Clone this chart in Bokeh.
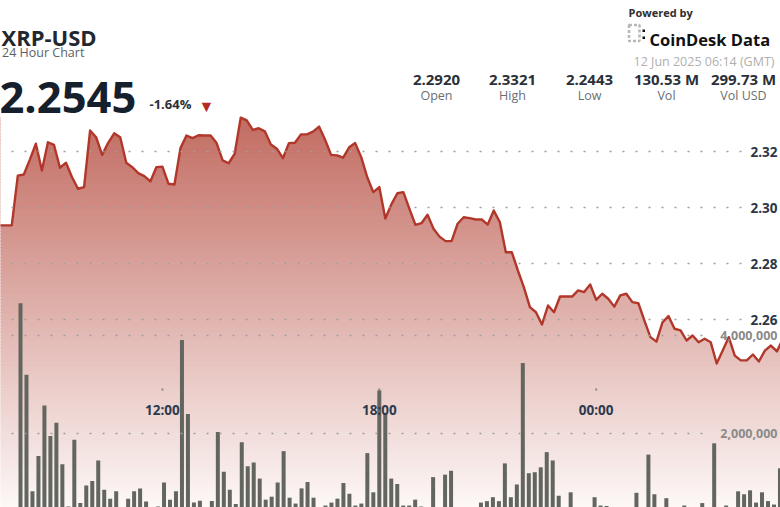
import numpy as np
import pandas as pd
from bokeh.plotting import figure
from bokeh.models import (Range1d, ColumnDataSource, LabelSet, Label, Grid,
                          FixedTicker, BoxAnnotation)
from bokeh.core.properties import value
from bokeh.embed import file_html
from bokeh.resources import INLINE

# ---------------------------------------------------------------- data
symbol = "XRP-USD"
chart_name = "24 Hour Chart"
last_price = "2.2545"
change_pct = "-1.64%"
stat_values = ["2.2920", "2.3321", "2.2443", "130.53 M", "299.73 M"]
stat_names = ["Open", "High", "Low", "Vol", "Vol USD"]
powered_by = "Powered by"
brand = "CoinDesk Data"
timestamp = "12 Jun 2025 06:14 (GMT)"

# 10-minute closes, visible part of the 24h window
price_start = "2025-06-11 07:20"
prices = [
    2.2936, 2.2936, 2.2936, 2.2936, 2.3114, 2.3118, 2.3171, 2.3228, 2.3132, 2.3233,
    2.3224, 2.3142, 2.3160, 2.3108, 2.3067, 2.3073, 2.3275, 2.3251, 2.3188, 2.3231,
    2.3265, 2.3251, 2.3160, 2.3144, 2.3123, 2.3112, 2.3093, 2.3144, 2.3146, 2.3085,
    2.3082, 2.3212, 2.3257, 2.3248, 2.3258, 2.3257, 2.3257, 2.3230, 2.3168, 2.3158,
    2.3192, 2.3321, 2.3311, 2.3277, 2.3283, 2.3272, 2.3225, 2.3210, 2.3176, 2.3230,
    2.3231, 2.3261, 2.3261, 2.3271, 2.3289, 2.3242, 2.3188, 2.3186, 2.3178, 2.3215,
    2.3230, 2.3180, 2.3108, 2.3055, 2.3073, 2.2961, 2.3011, 2.3051, 2.3055, 2.2995,
    2.2938, 2.2944, 2.2974, 2.2924, 2.2896, 2.2880, 2.2880, 2.2942, 2.2965, 2.2962,
    2.2957, 2.2957, 2.2939, 2.2989, 2.2948, 2.2840, 2.2840, 2.2775, 2.2715, 2.2644,
    2.2626, 2.2582, 2.2650, 2.2626, 2.2682, 2.2682, 2.2682, 2.2704, 2.2698, 2.2725,
    2.2670, 2.2692, 2.2674, 2.2646, 2.2686, 2.2692, 2.2662, 2.2658, 2.2596, 2.2537,
    2.2521, 2.2590, 2.2612, 2.2567, 2.2561, 2.2525, 2.2543, 2.2519, 2.2531, 2.2519,
    2.2443, 2.2489, 2.2537, 2.2471, 2.2454, 2.2454, 2.2475, 2.2450, 2.2489, 2.2507,
    2.2486, 2.2532,
]

# 10-minute volumes (millions of XRP)
volume_start = "2025-06-11 08:00"
volumes_m = [
    4.66, 3.20, 0.82, 1.54, 2.57, 1.95, 2.22, 1.37, 0.51, 1.87,
    0.58, 0.94, 1.03, 1.45, 0.85, 0.67, 0.82, 0.40, 0.67, 0.82,
    0.88, 0.61, 0.40, 0.51, 1.00, 0.65, 0.82, 3.91, 2.40, 0.59,
    0.63, 0.40, 0.62, 2.03, 1.22, 0.85, 0.56, 1.82, 1.33, 1.41,
    1.08, 0.65, 0.71, 1.00, 1.64, 0.69, 0.57, 0.88, 1.01, 0.69,
    0.40, 0.53, 0.59, 0.67, 0.99, 0.77, 0.53, 0.57, 1.60, 0.80,
    2.88, 2.42, 1.08, 0.97, 0.53, 0.53, 0.65, 0.51, 0.40, 1.11,
    0.40, 1.16, 1.24, 0.40, 0.40, 0.40, 0.40, 0.59, 0.62, 0.70,
    0.62, 1.39, 0.70, 0.96, 3.44, 1.19, 1.21, 1.31, 1.62, 1.45,
    0.73, 0.40, 0.80, 0.40, 0.40, 0.40, 0.70, 0.53, 0.52, 0.49,
    0.40, 0.40, 0.40, 0.79, 0.40, 1.57, 0.76, 0.40, 0.68, 0.40,
    0.40, 0.53, 0.40, 0.40, 0.58, 0.40, 1.80, 0.40, 0.53, 0.40,
    0.82, 0.76, 0.84, 0.59, 0.80, 0.62, 0.55, 1.29,
]

price_ticks = [2.26, 2.28, 2.30, 2.32]
price_tick_labels = ["2.26", "2.28", "2.30", "2.32"]
volume_ticks = [2_000_000, 4_000_000]
volume_tick_labels = ["2,000,000", "4,000,000"]
time_ticks = ["2025-06-11 12:00", "2025-06-11 18:00", "2025-06-12 00:00"]
time_tick_labels = ["12:00", "18:00", "00:00"]

# ---------------------------------------------------------------- layout
W, H = 780, 507
FONT = "Open Sans"


def sy(y):               # screen units are measured from the bottom
    return H - y


def ms(t):
    return pd.Timestamp(t).value / 1e6


HOUR = 3_600_000.0
ANCHOR = ms("2025-06-11 08:00")
PRICE_X0, PRICE_PXH = 17.3, 36.15      # px of anchor time, px per hour
VOL_X0, VOL_PXH = 20.0, 35.88
PRICE_Y_REF, PRICE_PX_PER_UNIT = 151.0, 2800.0
VOL_Y0, VOL_PX_PER_M = 531.0, 49.0


def price_t(x):
    return ANCHOR + (x - PRICE_X0) / PRICE_PXH * HOUR


def vol_t(x):
    return ANCHOR + (x - VOL_X0) / VOL_PXH * HOUR


def price_at(y):
    return price_ticks[-1] - (y - PRICE_Y_REF) / PRICE_PX_PER_UNIT


def vol_at(y):
    return (VOL_Y0 - y) / VOL_PX_PER_M * 1e6


t_price = pd.date_range(price_start, periods=len(prices), freq="10min")
t_price_ms = t_price.asi8 / 1e6
t_vol = pd.date_range(volume_start, periods=len(volumes_m), freq="10min")
t_vol_ms = t_vol.asi8 / 1e6
volumes = np.array(volumes_m) * 1e6

p = figure(width=W, height=H,
           x_range=Range1d(price_t(0), price_t(W)),
           y_range=Range1d(price_at(H), price_at(0)),
           x_axis_location=None, y_axis_location=None,
           toolbar_location=None, output_backend="svg", min_border=0)
p.extra_x_ranges = {"vbar": Range1d(vol_t(0), vol_t(W))}
p.extra_y_ranges = {"vol": Range1d(vol_at(H), vol_at(0))}
p.center = []
p.outline_line_color = None
p.background_fill_color = "#ffffff"
p.border_fill_color = "#ffffff"

# vertical gradient under the price line
N = 120
y_lo, y_hi = p.y_range.start, max(prices)
edges = np.linspace(y_lo, y_hi, N + 1)
frac = (np.arange(N) + 0.5) / N
top_rgb = np.array([194, 108, 98])
bot_rgb = np.array([253, 248, 247])
cols = bot_rgb + (top_rgb - bot_rgb) * frac[:, None]
colors = ["#%02x%02x%02x" % tuple(int(round(v)) for v in c) for c in cols]
p.quad(left=t_price_ms[0], right=t_price_ms[-1], bottom=edges[:-1], top=edges[1:],
       fill_color=colors, line_color=colors, line_width=1)
# white above the line
p.varea(x=t_price_ms, y1=prices, y2=p.y_range.end, fill_color="#ffffff")

# volume bars
bar_w = 10 * 60_000 * 4.0 / 5.98
p.vbar(x=t_vol_ms, top=volumes, bottom=0, width=bar_w,
       x_range_name="vbar", y_range_name="vol",
       fill_color="#62665f", line_color=None)

# price line
p.line(t_price_ms, prices, line_color="#b2372b", line_width=2.4, line_join="round")

# dotted grids
price_grid = Grid(dimension=1, ticker=FixedTicker(ticks=price_ticks),
                  grid_line_color="#a0a0a0", grid_line_width=1.5,
                  grid_line_dash="2 11", level="guide",
                  cross_bounds=(price_t(11.0), price_t(742)))
vol_grid = Grid(dimension=1, ticker=FixedTicker(ticks=volume_ticks),
                y_range_name="vol",
                grid_line_color="#a0a0a0", grid_line_width=1.5,
                grid_line_dash="2 11", level="guide",
                cross_bounds=(price_t(11.0), price_t(712)))
p.add_layout(price_grid)
p.add_layout(vol_grid)

# axis labels (kept inside the picture, right-aligned at its edge)
p.add_layout(LabelSet(source=ColumnDataSource(dict(y=price_ticks, text=price_tick_labels)),
                      x=W - 3, y="y", text="text", x_units="screen",
                      text_font=value(FONT), text_font_size="13.5px",
                      text_font_style="bold", text_color="#2d3645",
                      text_align="right", text_baseline="middle"))
p.add_layout(LabelSet(source=ColumnDataSource(dict(y=volume_ticks, text=volume_tick_labels)),
                      x=W - 3, y="y", text="text", x_units="screen", y_range_name="vol",
                      text_font=value(FONT), text_font_size="12.5px",
                      text_font_style="bold", text_color="#8a8a8a",
                      text_align="right", text_baseline="middle"))
p.add_layout(LabelSet(source=ColumnDataSource(dict(x=[ms(t) for t in time_ticks],
                                                   text=time_tick_labels)),
                      x="x", y=sy(414.5), text="text", y_units="screen",
                      text_font=value(FONT), text_font_size="13.5px",
                      text_font_style="bold", text_color="#2d3a4d",
                      text_align="center", text_baseline="alphabetic"))
# small tick dots above the time labels
half_px = 0.9 / PRICE_PXH * HOUR
for t in time_ticks:
    p.add_layout(BoxAnnotation(left=ms(t) - half_px, right=ms(t) + half_px,
                               top=sy(388), bottom=sy(390),
                               top_units="screen", bottom_units="screen",
                               fill_color="#808080", fill_alpha=1.0, line_color=None))


# header
def label(x, y, text, size, color, bold=False, align="left"):
    p.add_layout(Label(x=x, y=sy(y), x_units="screen", y_units="screen",
                       text=text, text_font=FONT, text_font_size=f"{size}px",
                       text_font_style="bold" if bold else "normal",
                       text_color=color, text_align=align,
                       text_baseline="alphabetic"))


label(1, 36.5, symbol, 22, "#23272e", bold=True)
label(1.5, 52, chart_name, 12.5, "#5b5f66")
label(-1, 97, last_price, 43.5, "#16202c", bold=True)
label(149, 103, change_pct, 13, "#2b2f36", bold=True)
label(198, 105, "\u25BC", 16, "#b52b1e")

stat_x = [436, 512, 589, 666, 743]
p.add_layout(LabelSet(source=ColumnDataSource(dict(x=stat_x, text=stat_values)),
                      x="x", y=sy(84), text="text", x_units="screen", y_units="screen",
                      text_font=value(FONT), text_font_size="15px",
                      text_font_style="bold", text_color="#2b3038",
                      text_align="center", text_baseline="alphabetic"))
p.add_layout(LabelSet(source=ColumnDataSource(dict(x=stat_x, text=stat_names)),
                      x="x", y=sy(99.5), text="text", x_units="screen", y_units="screen",
                      text_font=value(FONT), text_font_size="12.5px",
                      text_color="#6b6f75",
                      text_align="center", text_baseline="alphabetic"))

BX = 628
label(BX, 12, powered_by, 11, "#2e2e2e", bold=True)
label(BX + 21, 39, brand, 16.5, "#111111", bold=True)
label(BX + 5, 60.5, timestamp, 12.5, "#b0b0b0")

# logo mark
p.add_layout(BoxAnnotation(left=BX + 0.5, right=BX + 11, top=sy(24.5), bottom=sy(40.5),
                           left_units="screen", right_units="screen",
                           top_units="screen", bottom_units="screen",
                           fill_color=None, line_color="#111111", line_width=2.5,
                           line_dash="3 2"))
for yy in (29, 36):
    p.add_layout(BoxAnnotation(left=BX + 14, right=BX + 16.5, top=sy(yy), bottom=sy(yy + 2.5),
                               left_units="screen", right_units="screen",
                               top_units="screen", bottom_units="screen",
                               fill_color="#111111", fill_alpha=1.0, line_color=None))

open("out.html", "w").write(file_html(p, INLINE))
